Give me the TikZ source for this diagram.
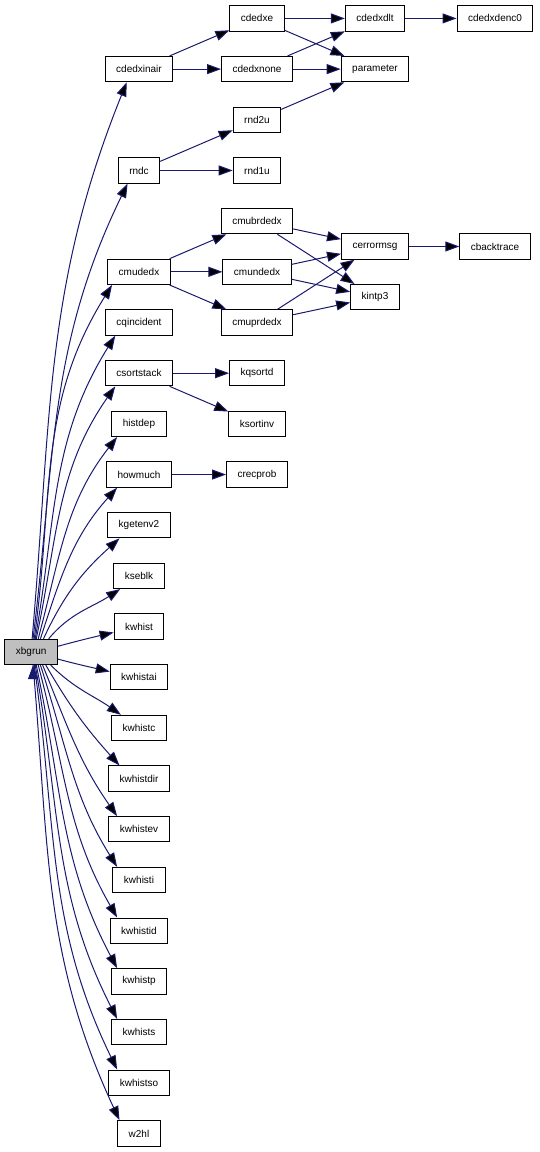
\documentclass[tikz,border=0pt]{standalone}
\usepackage{fontspec}
\setmainfont{Liberation Sans}
\usetikzlibrary{arrows.meta,positioning}

\definecolor{callblue}{HTML}{191970}
\definecolor{rootgray}{HTML}{BFBFBF}

\tikzset{
  fn/.style={draw=black, line width=1pt, minimum height=25.3pt,
    inner xsep=11pt, inner ysep=0pt, font=\fontsize{10}{12}\selectfont},
  root/.style={fn, fill=rootgray},
  call/.style={draw=callblue, line width=1pt,
    -{Triangle[length=14pt,width=10pt]}}
}

\begin{document}
\begin{tikzpicture}[x=1pt, y=1pt, node distance=50.68pt and 118pt, on grid]
  \useasboundingbox (0,0) rectangle (539,-1152);
  \path
  node[fn] (cdedxinair) at (139,-69.1) {cdedxinair}
  node[fn] (rndc) [below=101.36pt of cdedxinair] {rndc}
  node[fn] (cmudedx) [below=101.36pt of rndc] {cmudedx}
  node[fn] (cqincident) [below=of cmudedx] {cqincident}
  node[fn] (csortstack) [below=of cqincident] {csortstack}
  node[fn] (histdep) [below=of csortstack] {histdep}
  node[fn] (howmuch) [below=of histdep] {howmuch}
  node[fn] (kgetenv2) [below=of howmuch] {kgetenv2}
  node[fn] (kseblk) [below=of kgetenv2] {kseblk}
  node[fn] (kwhist) [below=of kseblk] {kwhist}
  node[fn] (kwhistai) [below=of kwhist] {kwhistai}
  node[fn] (kwhistc) [below=of kwhistai] {kwhistc}
  node[fn] (kwhistdir) [below=of kwhistc] {kwhistdir}
  node[fn] (kwhistev) [below=of kwhistdir] {kwhistev}
  node[fn] (kwhisti) [below=of kwhistev] {kwhisti}
  node[fn] (kwhistid) [below=of kwhisti] {kwhistid}
  node[fn] (kwhistp) [below=of kwhistid] {kwhistp}
  node[fn] (kwhists) [below=of kwhistp] {kwhists}
  node[fn] (kwhistso) [below=of kwhists] {kwhistso}
  node[fn] (w2hl) [below=of kwhistso] {w2hl}
  node[root] (xbgrun) [below left=25.34pt and 107.8pt of kwhist] {xbgrun}

  node[fn] (cdedxnone) [right=of cdedxinair] {cdedxnone}
  node[fn] (cdedxe) [above=of cdedxnone] {cdedxe}
  node[fn] (rnd2u) [below=of cdedxnone] {rnd2u}
  node[fn] (rnd1u) [right=of rndc] {rnd1u}
  node[fn] (cmundedx) [right=of cmudedx] {cmundedx}
  node[fn] (cmubrdedx) [above=of cmundedx] {cmubrdedx}
  node[fn] (cmuprdedx) [below=of cmundedx] {cmuprdedx}
  node[fn] (kqsortd) [right=of csortstack] {kqsortd}
  node[fn] (ksortinv) [right=of histdep] {ksortinv}
  node[fn] (crecprob) [right=of howmuch] {crecprob}

  node[fn] (cdedxdlt) [right=of cdedxe] {cdedxdlt}
  node[fn] (parameter) [right=of cdedxnone] {parameter}
  node[fn] (cerrormsg) [above right=25.34pt and 118pt of cmundedx] {cerrormsg}
  node[fn] (kintp3) [below right=25.34pt and 118pt of cmundedx] {kintp3}
  node[fn] (cdedxdenc0) [right=120pt of cdedxdlt] {cdedxdenc0}
  node[fn] (cbacktrace) [right=120pt of cerrormsg] {cbacktrace}
  ;

  % calls from xbgrun
  \path[call]
  (xbgrun.86) edge[out=85, in=248] (cdedxinair.227)
  (xbgrun.82) edge[out=83, in=244] (rndc.229)
  (xbgrun.77) edge[out=82, in=238] (cmudedx.206)
  (xbgrun.73) edge[out=80, in=238] (cqincident.209)
  (xbgrun.69) edge[out=78, in=235] (csortstack.209)
  (xbgrun.62) edge[out=75, in=232] (histdep.211)
  (xbgrun.55) edge[out=72, in=228] (howmuch.211)
  (xbgrun.47) edge[out=65, in=222] (kgetenv2.214)
  (xbgrun.37) edge[out=50, in=213] (kseblk.215)
  (xbgrun.12) edge[out=15, in=193] (kwhist.193)
  (xbgrun.-15) edge[out=-15, in=167] (kwhistai.169)
  (xbgrun.-34) edge[out=-45, in=145] (kwhistc.144)
  (xbgrun.-42) edge[out=-60, in=132] (kwhistdir.146)
  (xbgrun.-49) edge[out=-68, in=125] (kwhistev.149)
  (xbgrun.-55) edge[out=-72, in=122] (kwhisti.149)
  (xbgrun.-62) edge[out=-75, in=120] (kwhistid.149)
  (xbgrun.-69) edge[out=-78, in=118] (kwhistp.149)
  (xbgrun.-73) edge[out=-80, in=117] (kwhists.149)
  (xbgrun.-77) edge[out=-82, in=116] (kwhistso.149)
  (xbgrun.-82) edge[out=-85, in=115] (w2hl.146)
  ;

  % calls further right
  \path[call]
  (cdedxinair) edge (cdedxe)
  (cdedxinair) edge (cdedxnone)
  (cdedxe) edge (cdedxdlt)
  (cdedxe) edge (parameter)
  (cdedxnone) edge (cdedxdlt)
  (cdedxnone) edge (parameter)
  (cdedxdlt) edge (cdedxdenc0)
  (rndc) edge (rnd2u)
  (rndc) edge (rnd1u)
  (rnd2u) edge (parameter)

  (cmudedx) edge (cmubrdedx)
  (cmudedx) edge (cmundedx)
  (cmudedx) edge (cmuprdedx)
  (cmubrdedx) edge (cerrormsg)
  (cmubrdedx) edge (kintp3)
  (cmundedx) edge (cerrormsg)
  (cmundedx) edge (kintp3)
  (cmuprdedx) edge (cerrormsg)
  (cmuprdedx) edge (kintp3)
  (cerrormsg) edge (cbacktrace)

  (csortstack) edge (kqsortd)
  (csortstack) edge (ksortinv)
  (howmuch) edge (crecprob)
  ;
\end{tikzpicture}
\end{document}
